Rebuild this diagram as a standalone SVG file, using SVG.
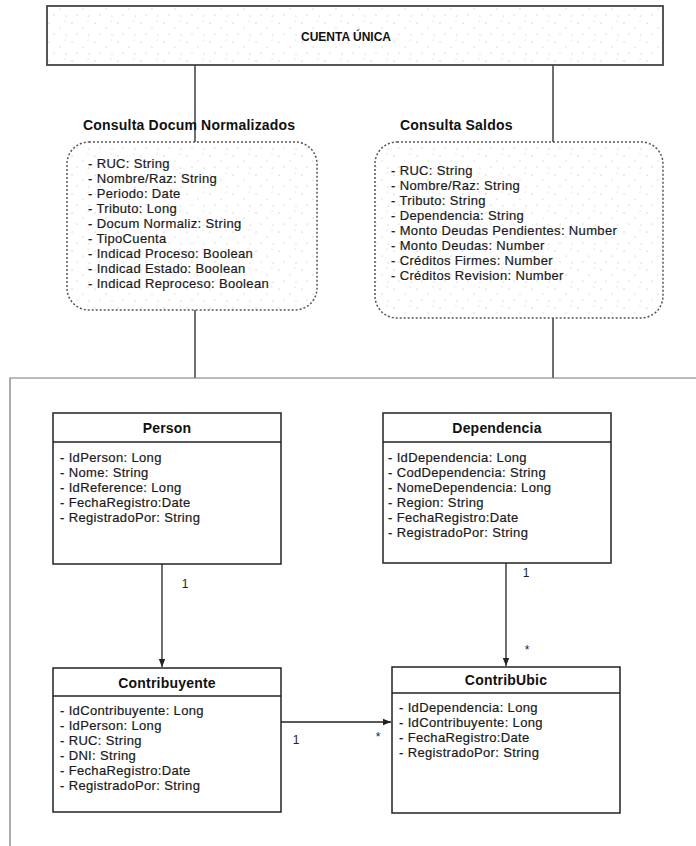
<svg xmlns="http://www.w3.org/2000/svg" width="696" height="846" viewBox="0 0 696 846">
<style>
  .attr{font-family:"Liberation Sans",Arial,sans-serif;font-size:13px;letter-spacing:0.35px;fill:#1a1a1a;stroke:#1a1a1a;stroke-width:0.2}
  .title{font-family:"Liberation Sans",Arial,sans-serif;font-size:14px;letter-spacing:0.2px;font-weight:bold;fill:#111}
  .cls{fill:#fff;stroke:#222;stroke-width:1.5}
  .div{stroke:#222;stroke-width:1.5}
  .dash{fill:url(#speck);stroke:#555;stroke-width:1.5;stroke-dasharray:2 2}
  .conn{stroke:#222;stroke-width:1.3;fill:none}
  .lbl{font-family:"Liberation Sans",Arial,sans-serif;font-size:12px;fill:#222}
</style>
<defs>
  <pattern id="speck" width="23" height="19" patternUnits="userSpaceOnUse">
    <rect width="23" height="19" fill="#fff"/>
    <circle cx="3" cy="4" r="0.6" fill="#aaa"/>
    <circle cx="14" cy="9" r="0.6" fill="#bbb"/>
    <circle cx="8" cy="15" r="0.5" fill="#aaa"/>
    <circle cx="19" cy="2" r="0.5" fill="#bbb"/>
    <circle cx="20" cy="16" r="0.5" fill="#aaa"/>
  </pattern>
  <marker id="arr" viewBox="0 0 10 10" refX="10" refY="5" markerWidth="8" markerHeight="8" orient="auto" markerUnits="userSpaceOnUse">
    <path d="M0,1 L10,5 L0,9 Z" fill="#222"/>
  </marker>
</defs>
<rect width="696" height="846" fill="#fff"/>

<g id="connectors">
  <line class="conn" x1="195" y1="65" x2="195" y2="142"/>
  <line class="conn" x1="553" y1="65" x2="553" y2="142"/>
  <line class="conn" x1="195" y1="310" x2="195" y2="378"/>
  <line class="conn" x1="553" y1="318" x2="553" y2="378"/>
  <path d="M696,378 H10 V846" fill="none" stroke="#777" stroke-width="1.2"/>
  <line class="conn" x1="162" y1="564" x2="162" y2="667" marker-end="url(#arr)"/>
  <line class="conn" x1="506" y1="563" x2="506" y2="666" marker-end="url(#arr)"/>
  <line class="conn" x1="281" y1="722" x2="391" y2="722" marker-end="url(#arr)"/>
  <text class="lbl" x="185" y="588" text-anchor="middle">1</text>
  <text class="lbl" x="526" y="577" text-anchor="middle">1</text>
  <text class="lbl" x="527" y="654" text-anchor="middle">*</text>
  <text class="lbl" x="296" y="744" text-anchor="middle">1</text>
  <text class="lbl" x="378" y="741" text-anchor="middle">*</text>
</g>

<g id="cuenta-unica">
  <rect x="47" y="6" width="616" height="59" fill="url(#speck)" stroke="#444" stroke-width="1.8"/>
  <text x="346" y="41" text-anchor="middle" font-family="'Liberation Sans',Arial,sans-serif" font-size="12px" font-weight="bold" fill="#111">CUENTA ÚNICA</text>
</g>

<g id="consulta-docum">
  <text class="title" x="83" y="130">Consulta Docum Normalizados</text>
  <rect class="dash" x="67" y="142" width="250" height="168" rx="22"/>
  <text class="attr" x="88" y="168">- RUC: String</text>
  <text class="attr" x="88" y="183">- Nombre/Raz: String</text>
  <text class="attr" x="88" y="198">- Periodo: Date</text>
  <text class="attr" x="88" y="213">- Tributo: Long</text>
  <text class="attr" x="88" y="228">- Docum Normaliz: String</text>
  <text class="attr" x="88" y="243">- TipoCuenta</text>
  <text class="attr" x="88" y="258">- Indicad Proceso: Boolean</text>
  <text class="attr" x="88" y="273">- Indicad Estado: Boolean</text>
  <text class="attr" x="88" y="288">- Indicad Reproceso: Boolean</text>
</g>

<g id="consulta-saldos">
  <text class="title" x="400" y="130">Consulta Saldos</text>
  <rect class="dash" x="375" y="142" width="288" height="176" rx="22"/>
  <text class="attr" x="391" y="175">- RUC: String</text>
  <text class="attr" x="391" y="190">- Nombre/Raz: String</text>
  <text class="attr" x="391" y="205">- Tributo: String</text>
  <text class="attr" x="391" y="220">- Dependencia: String</text>
  <text class="attr" x="391" y="235">- Monto Deudas Pendientes: Number</text>
  <text class="attr" x="391" y="250">- Monto Deudas: Number</text>
  <text class="attr" x="391" y="265">- Créditos Firmes: Number</text>
  <text class="attr" x="391" y="280">- Créditos Revision: Number</text>
</g>

<g id="person">
  <rect class="cls" x="53" y="413" width="228" height="151"/>
  <line class="div" x1="53" y1="442" x2="281" y2="442"/>
  <text class="title" x="167" y="433" text-anchor="middle">Person</text>
  <text class="attr" x="60" y="462">- IdPerson: Long</text>
  <text class="attr" x="60" y="477">- Nome: String</text>
  <text class="attr" x="60" y="492">- IdReference: Long</text>
  <text class="attr" x="60" y="507">- FechaRegistro:Date</text>
  <text class="attr" x="60" y="522">- RegistradoPor: String</text>
</g>

<g id="dependencia">
  <rect class="cls" x="383" y="413" width="228" height="150"/>
  <line class="div" x1="383" y1="442" x2="611" y2="442"/>
  <text class="title" x="497" y="433" text-anchor="middle">Dependencia</text>
  <text class="attr" x="388" y="462">- IdDependencia: Long</text>
  <text class="attr" x="388" y="477">- CodDependencia: String</text>
  <text class="attr" x="388" y="492">- NomeDependencia: Long</text>
  <text class="attr" x="388" y="507">- Region: String</text>
  <text class="attr" x="388" y="522">- FechaRegistro:Date</text>
  <text class="attr" x="388" y="537">- RegistradoPor: String</text>
</g>

<g id="contribuyente">
  <rect class="cls" x="53" y="668" width="228" height="144"/>
  <line class="div" x1="53" y1="696" x2="281" y2="696"/>
  <text class="title" x="167" y="688" text-anchor="middle">Contribuyente</text>
  <text class="attr" x="60" y="715">- IdContribuyente: Long</text>
  <text class="attr" x="60" y="730">- IdPerson: Long</text>
  <text class="attr" x="60" y="745">- RUC: String</text>
  <text class="attr" x="60" y="760">- DNI: String</text>
  <text class="attr" x="60" y="775">- FechaRegistro:Date</text>
  <text class="attr" x="60" y="790">- RegistradoPor: String</text>
</g>

<g id="contribubic">
  <rect class="cls" x="392" y="667" width="228" height="146"/>
  <line class="div" x1="392" y1="693" x2="620" y2="693"/>
  <text class="title" x="506" y="685" text-anchor="middle">ContribUbic</text>
  <text class="attr" x="399" y="712">- IdDependencia: Long</text>
  <text class="attr" x="399" y="727">- IdContribuyente: Long</text>
  <text class="attr" x="399" y="742">- FechaRegistro:Date</text>
  <text class="attr" x="399" y="757">- RegistradoPor: String</text>
</g>
</svg>
